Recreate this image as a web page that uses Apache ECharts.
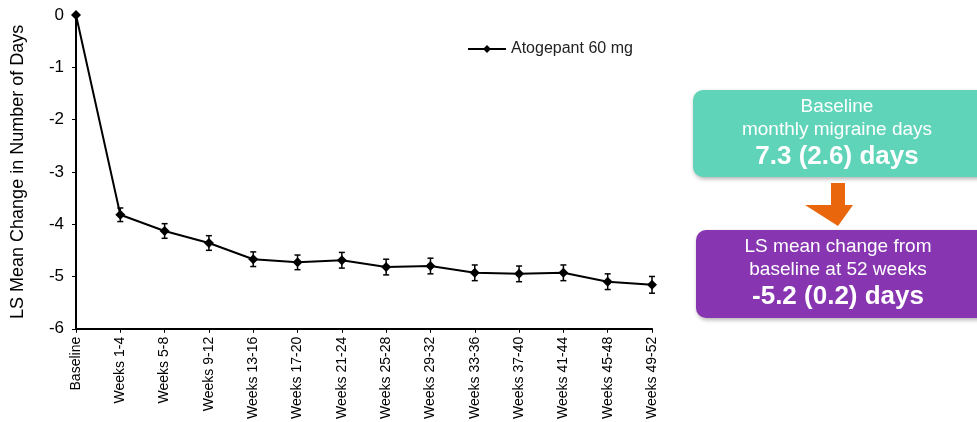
<!DOCTYPE html>
<html><head><meta charset="utf-8">
<script src="https://cdn.jsdelivr.net/npm/echarts@6/dist/echarts.min.js"></script>
<style>html,body{margin:0;padding:0;background:#fff}#c{width:977px;height:422px}</style>
</head><body><div id="c"></div>
<script>
const categories = ['Baseline','Weeks 1-4','Weeks 5-8','Weeks 9-12','Weeks 13-16','Weeks 17-20','Weeks 21-24','Weeks 25-28','Weeks 29-32','Weeks 33-36','Weeks 37-40','Weeks 41-44','Weeks 45-48','Weeks 49-52'];
const lsMean = [0, -3.82, -4.13, -4.36, -4.67, -4.73, -4.69, -4.82, -4.80, -4.93, -4.95, -4.93, -5.10, -5.16];
const se = [0, 0.13, 0.14, 0.14, 0.14, 0.14, 0.15, 0.15, 0.15, 0.15, 0.15, 0.15, 0.15, 0.16];
const yTicks = [0, -1, -2, -3, -4, -5, -6];
const seriesName = 'Atogepant 60 mg';
const box1 = ['Baseline', 'monthly migraine days', '7.3 (2.6) days'];
const box2 = ['LS mean change from', 'baseline at 52 weeks', '-5.2 (0.2) days'];

const FONT = 'Liberation Sans, Arial, sans-serif';
const chart = echarts.init(document.getElementById('c'));
const errData = categories.map((c, i) => [i, lsMean[i] - se[i], lsMean[i] + se[i]]).filter((d, i) => se[i] > 0);

chart.setOption({
  animation: false,
  textStyle: { fontFamily: FONT },
  grid: { left: 76, right: 325, top: 15, bottom: 92, containLabel: false },
  legend: {
    data: [seriesName], left: 462, top: 36, itemWidth: 38, itemHeight: 10, itemGap: 5,
    textStyle: { fontSize: 16, color: '#222', fontFamily: FONT }
  },
  xAxis: {
    type: 'category', data: categories, boundaryGap: false,
    axisLine: { onZero: false, lineStyle: { color: '#000', width: 2 } },
    axisTick: { show: true, alignWithLabel: true, length: 4, lineStyle: { color: '#000' } },
    axisLabel: { rotate: 90, fontSize: 14, color: '#000', margin: 8, interval: 0, fontFamily: FONT }
  },
  yAxis: {
    type: 'value', min: -6, max: 0, interval: 1,
    name: 'LS Mean Change in Number of Days', nameLocation: 'middle', nameGap: 49,
    nameTextStyle: { fontSize: 18, color: '#000', fontFamily: FONT },
    axisLine: { show: true, lineStyle: { color: '#000', width: 2 } },
    axisTick: { show: true, length: 4, lineStyle: { color: '#000' } },
    splitLine: { show: false },
    axisLabel: { fontSize: 17, color: '#000', margin: 12, fontFamily: FONT,
      customValues: yTicks }
  },
  series: [
    {
      name: seriesName, type: 'line', data: lsMean,
      symbol: 'diamond', symbolSize: 10,
      lineStyle: { color: '#000', width: 2 },
      itemStyle: { color: '#000' }, z: 3
    },
    {
      type: 'custom', name: 'err', data: errData, z: 2, silent: true,
      encode: { x: 0, y: [1, 2] },
      renderItem: function (params, api) {
        const x = api.value(0);
        const lo = api.coord([x, api.value(1)]);
        const hi = api.coord([x, api.value(2)]);
        const w = 3;
        const style = { stroke: '#000', lineWidth: 1.5 };
        return { type: 'group', children: [
          { type: 'line', shape: { x1: lo[0], y1: lo[1], x2: hi[0], y2: hi[1] }, style },
          { type: 'line', shape: { x1: lo[0]-w, y1: lo[1], x2: lo[0]+w, y2: lo[1] }, style },
          { type: 'line', shape: { x1: hi[0]-w, y1: hi[1], x2: hi[0]+w, y2: hi[1] }, style }
        ]};
      }
    }
  ],
  graphic: [
    { type: 'rect', shape: { x: 693, y: 90, width: 300, height: 87, r: 10 },
      style: { fill: '#5fd4b9', shadowBlur: 4, shadowOffsetX: 1, shadowOffsetY: 2, shadowColor: 'rgba(0,0,0,0.3)' } },
    { type: 'text', style: { x: 837, y: 107, text: box1[0], fill: '#fff', font: '19px ' + FONT, align: 'center', verticalAlign: 'middle' } },
    { type: 'text', style: { x: 837, y: 130, text: box1[1], fill: '#fff', font: '19px ' + FONT, align: 'center', verticalAlign: 'middle' } },
    { type: 'text', style: { x: 837, y: 157, text: box1[2], fill: '#fff', font: 'bold 26px ' + FONT, align: 'center', verticalAlign: 'middle' } },
    { type: 'polygon', shape: { points: [[831,183],[845,183],[845,205],[853,205],[838,226],[805,205],[831,205]] },
      style: { fill: '#e9660c' } },
    { type: 'rect', shape: { x: 696, y: 230, width: 300, height: 88, r: 10 },
      style: { fill: '#8835b1', shadowBlur: 4, shadowOffsetX: 1, shadowOffsetY: 2, shadowColor: 'rgba(0,0,0,0.3)' } },
    { type: 'text', style: { x: 838, y: 247, text: box2[0], fill: '#fff', font: '19px ' + FONT, align: 'center', verticalAlign: 'middle' } },
    { type: 'text', style: { x: 838, y: 270, text: box2[1], fill: '#fff', font: '19px ' + FONT, align: 'center', verticalAlign: 'middle' } },
    { type: 'text', style: { x: 838, y: 297, text: box2[2], fill: '#fff', font: 'bold 26px ' + FONT, align: 'center', verticalAlign: 'middle' } }
  ]
});
</script></body></html>
